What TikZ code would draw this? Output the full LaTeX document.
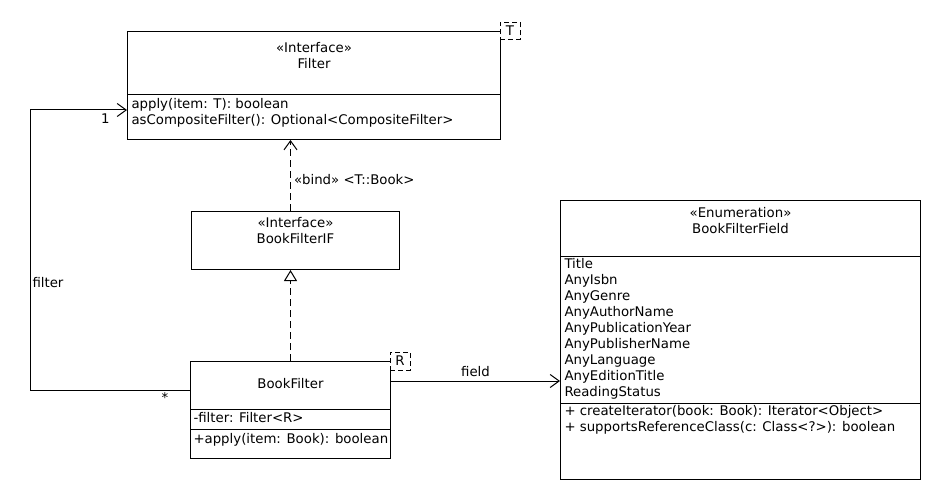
\documentclass[tikz,border=0pt]{standalone}
\usepackage{fontspec}
\setmainfont{DejaVu Sans}
\usetikzlibrary{positioning,arrows.meta}

\begin{document}
\begin{tikzpicture}[
    x=1pt, y=-1pt,
    font=\fontsize{13.3}{16}\selectfont,
    line width=1pt,
    frame/.style={ draw, inner sep=0pt, anchor=north west, },
    title/.style={ align=center, inner sep=0pt, anchor=north, },
    members/.style={ align=left, inner sep=0pt, anchor=north west, },
    template/.style={ draw, dash pattern=on 5pt off 3pt, fill=white, inner sep=0pt,
        minimum width=20pt, minimum height=17pt, },
    assoc/.style={ -{Straight Barb[length=9pt,width=13pt]}, },
    dependency/.style={ dash pattern=on 7pt off 4pt, -{Straight Barb[length=9pt,width=13pt]}, },
    realization/.style={ dash pattern=on 7pt off 4pt, -{Triangle[open,length=11pt,width=13pt]}, },
]
\useasboundingbox (0,0) rectangle (940,500);

% Filter
\node[frame, minimum width=373pt, minimum height=108pt] (filter) at (127,31) {};
\node[title] (filter-title) at ([yshift=-10.5pt]filter.north) {«Interface»\\Filter};
\coordinate (filter-div) at ([yshift=-64pt]filter.north west);
\draw (filter-div) -- (filter-div -| filter.east);
\node[members] (filter-ops) at ([xshift=4pt,yshift=-2.5pt]filter-div)
    {apply(item: T): boolean\\asCompositeFilter(): Optional<CompositeFilter>};
\node[template] (filter-t) at ([xshift=9pt]filter.north east) {T};

% BookFilterIF
\node[frame, minimum width=208pt, minimum height=58pt] (bookfilterif) at (191,211) {};
\node[title] (bookfilterif-title) at ([yshift=-6pt]bookfilterif.north) {«Interface»\\BookFilterIF};

% BookFilter
\node[frame, minimum width=200pt, minimum height=97pt] (bookfilter) at (190,361) {};
\node[title] (bookfilter-title) at ([yshift=-17pt]bookfilter.north) {BookFilter};
\coordinate (bookfilter-div1) at ([yshift=-48pt]bookfilter.north west);
\coordinate (bookfilter-div2) at ([yshift=-68pt]bookfilter.north west);
\draw (bookfilter-div1) -- (bookfilter-div1 -| bookfilter.east);
\draw (bookfilter-div2) -- (bookfilter-div2 -| bookfilter.east);
\node[members] (bookfilter-attrs) at ([xshift=3pt,yshift=-3pt]bookfilter-div1) {-filter: Filter<R>};
\node[members] (bookfilter-ops) at ([xshift=3pt,yshift=-3.5pt]bookfilter-div2) {+apply(item: Book): boolean};
\node[template, minimum height=18pt] (bookfilter-r) at ([xshift=9pt]bookfilter.north east) {R};

% BookFilterField
\node[frame, minimum width=360pt, minimum height=279pt] (field) at (560,200) {};
\node[title] (field-title) at ([yshift=-7pt]field.north) {«Enumeration»\\BookFilterField};
\coordinate (field-div1) at ([yshift=-56pt]field.north west);
\coordinate (field-div2) at ([yshift=-203pt]field.north west);
\draw (field-div1) -- (field-div1 -| field.east);
\draw (field-div2) -- (field-div2 -| field.east);
\node[members] (field-literals) at ([xshift=4pt,yshift=-2pt]field-div1)
    {Title\\AnyIsbn\\AnyGenre\\AnyAuthorName\\AnyPublicationYear\\AnyPublisherName\\AnyLanguage\\AnyEditionTitle\\ReadingStatus};
\node[members] (field-ops) at ([xshift=4pt,yshift=-1.5pt]field-div2)
    {+ createIterator(book: Book): Iterator<Object>\\+ supportsReferenceClass(c: Class<?>): boolean};

% connectors
\coordinate (filter-start) at ([yshift=-29pt]bookfilter.north west);
\coordinate (filter-bend) at ([xshift=-160pt]filter-start);
\coordinate (filter-end) at ([yshift=-79pt]filter.north west);
\draw[assoc] (filter-start) -- (filter-bend) |- (filter-end);
\node[anchor=north east, inner sep=0pt] (filter-one) at ([xshift=-17pt,yshift=-3pt]filter-end) {1};
\node[anchor=west, inner sep=0pt] (filter-role) at ([xshift=2pt]filter-bend |- 0,283) {filter};
\node[inner sep=0pt] (filter-many) at ([xshift=-25pt,yshift=-8pt]filter-start) {*};

\draw[dependency] (bookfilterif.north -| bookfilter.north) -- (filter.south -| bookfilter.north)
    node[pos=0.45, right=3pt, inner sep=0pt] (bind-label) {«bind» <T::Book>};
\draw[realization] (bookfilter.north) -- (bookfilter.north |- bookfilterif.south);

\coordinate (field-start) at ([yshift=-20pt]bookfilter.north east);
\draw[assoc] (field-start) -- (field-start -| field.west)
    node[midway, above=4pt, inner sep=0pt] (field-role) {field};
\end{tikzpicture}
\end{document}
